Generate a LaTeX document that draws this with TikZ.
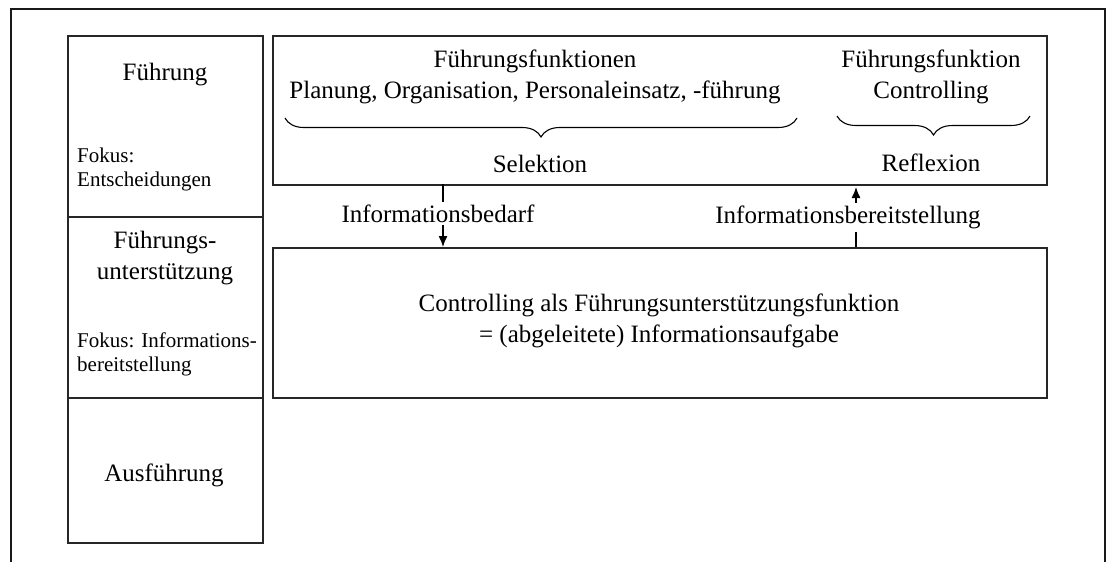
\documentclass[tikz,border=0pt]{standalone}
\usepackage{fontspec}
\setmainfont{Liberation Serif}
\usetikzlibrary{arrows.meta,decorations.pathreplacing}
\tikzset{
  box/.style={draw=black!85, line width=1.8pt, inner sep=0pt, anchor=north west},
  big/.style={font=\fontsize{25}{31}\selectfont, align=center, inner sep=0pt},
  small/.style={font=\fontsize{21}{26}\selectfont, align=left, inner sep=0pt, anchor=west},
  flow/.style={line width=1.3pt, -{Latex[length=11pt,width=9pt]}},
  lab/.style={font=\fontsize{25}{31}\selectfont, fill=white, inner sep=3pt},
  curly/.style={decorate, decoration={brace, mirror, amplitude=19pt}, line width=1.1pt}
}
\begin{document}
\begin{tikzpicture}[x=1pt,y=-1pt]
\useasboundingbox (0,0) rectangle (1110,562);
% outer frame (open at bottom)
\draw[line width=2.4pt, black!90] (11,562) -- (11,9) -- (1105,9) -- (1105,562);
% left column
\node[box, minimum width=195pt, minimum height=181pt] (lf) at (67,35) {};
\node[box, minimum width=195pt, minimum height=181pt] (lu) at (67,216) {};
\node[box, minimum width=195pt, minimum height=145pt] (la) at (67,397) {};
\node[big] (tf) at (165,75) {Führung};
\node[small] (tf1) at (77,155) {Fokus:};
\node[small] (tf2) at (77,181) {Entscheidungen};
\node[big] (tu) at (165,258) {Führungs-\\unterstützung};
\node[small] (tu1) at (77,340) {Fokus: Informations-};
\node[small] (tu2) at (77,366) {bereitstellung};
\node[big] (ta) at (164,475) {Ausführung};
% top box
\node[box, minimum width=774pt, minimum height=149pt] (top) at (272,35) {};
\node[big] (ff) at (535,77) {Führungsfunktionen\\Planung, Organisation, Personaleinsatz, -führung};
\node[big] (fc) at (931,77) {Führungsfunktion\\Controlling};
\coordinate (b1a) at (285,118);
\coordinate (b1b) at (797,118);
\coordinate (b2a) at (837,116);
\coordinate (b2b) at (1030,116);
\draw[curly] (b1a) -- (b1b);
\draw[curly] (b2a) -- (b2b);
\node[big] (sel) at (540,164) {Selektion};
\node[big] (ref) at (931,163) {Reflexion};
% bottom box
\node[box, minimum width=774pt, minimum height=150pt] (bot) at (272,247) {};
\node[big] (ctl) at (659,321) {Controlling als Führungsunterstützungsfunktion\\= (abgeleitete) Informationsaufgabe};
% arrows
\coordinate (a1s) at (443,184);
\coordinate (a1e) at (443,247);
\coordinate (a2s) at (856,247);
\coordinate (a2e) at (856,187);
\draw[flow] (a1s) -- node[lab, xshift=-5pt, yshift=2pt] (l1) {Informationsbedarf} (a1e);
\draw[flow] (a2s) -- node[lab, xshift=-8pt] (l2) {Informationsbereitstellung} (a2e);
\end{tikzpicture}
\end{document}
